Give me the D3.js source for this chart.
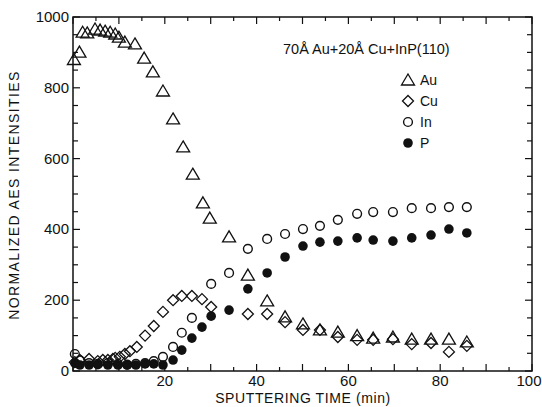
<!DOCTYPE html>
<html>
<head>
<meta charset="utf-8">
<script src="https://cdn.jsdelivr.net/npm/d3@7"></script>
<style>
body { margin: 0; background: #fff; }
text { font-family: "Liberation Sans", Arial, sans-serif; fill: #111; }
</style>
</head>
<body>
<script>
// values (time in min, normalized intensity)
const auTime = [0.2,1.4,2.1,3.1,4.8,5.9,7.0,8.1,9.2,10.0,11.3,13.5,15.5,17.4,19.6,21.8,24.0,26.1,28.3,29.8,34.0,38.1,42.3,46.2,50.1,53.8,57.7,61.9,65.4,69.7,73.8,78.0,81.9,85.8]
const auVal  = [880,901,957,955,966,963,960,957,952,943,929,924,884,845,791,712,633,556,475,432,379,271,198,153,133,116,110,100,93,96,90,90,90,82]

const cuTime = [0.4,1.5,3.5,5.4,6.5,7.6,8.7,9.2,10.2,11.3,12.4,13.9,15.7,17.6,19.6,21.8,23.7,25.9,28.1,30.1,38.1,42.3,46.2,50.1,53.8,57.7,61.9,65.4,69.7,73.8,78.0,81.9,85.8]
const cuVal  = [25,31,34,28,31,31,34,37,40,48,56,68,100,127,167,200,212,212,203,181,161,161,138,116,116,96,88,88,90,76,79,54,71]

const inTime = [0.4,1.5,3.5,5.4,7.6,9.8,11.8,13.7,15.7,17.6,19.6,21.8,23.7,25.9,30.1,34.0,38.1,42.3,46.2,50.1,53.8,57.7,61.9,65.4,69.7,73.8,78.0,81.9,85.8]
const inVal  = [48,30,22,20,22,20,18,20,22,28,40,68,108,150,246,277,345,373,387,401,410,427,444,449,449,460,460,463,463]

const pTime = [0.4,1.5,3.5,5.4,7.6,9.8,11.8,13.7,15.7,17.6,19.6,21.8,23.7,25.9,28.1,30.1,34.0,38.1,42.3,46.2,50.1,53.8,57.7,61.9,65.4,69.7,73.8,78.0,81.9,85.8]
const pVal  = [22,17,17,18,17,17,17,17,20,20,17,31,59,93,124,155,172,232,277,322,353,364,367,376,370,367,376,384,401,390]

const xTickLabels = [20, 40, 60, 80, 100]
const yTickLabels = [0, 200, 400, 600, 800, 1000]
const legendNames = ["Au", "Cu", "In", "P"]

const width = 542, height = 407
const margin = {top: 17, right: 10, bottom: 36, left: 73}

const x = d3.scaleLinear().domain([0, 100]).range([margin.left, width - margin.right])
const y = d3.scaleLinear().domain([0, 1000]).range([height - margin.bottom, margin.top])

const svg = d3.select("body").append("svg")
    .attr("width", width)
    .attr("height", height)

// ticks, pointing inward on all four sides
const xt = d3.range(0, 101, 5)
const yt = d3.range(0, 1001, 50)
const tk = svg.append("g").attr("stroke", "#111").attr("stroke-width", 1.2)
xt.forEach(function(v) {
    const len = v % 10 === 0 ? 7 : 4
    tk.append("line").attr("x1", x(v)).attr("x2", x(v)).attr("y1", y(0)).attr("y2", y(0) - len)
    tk.append("line").attr("x1", x(v)).attr("x2", x(v)).attr("y1", y(1000)).attr("y2", y(1000) + len)
})
yt.forEach(function(v) {
    const len = v % 200 === 0 ? 7 : 5
    tk.append("line").attr("x1", x(0)).attr("x2", x(0) + len).attr("y1", y(v)).attr("y2", y(v))
    tk.append("line").attr("x1", x(100)).attr("x2", x(100) - len).attr("y1", y(v)).attr("y2", y(v))
})

svg.append("rect")
    .attr("x", x(0)).attr("y", y(1000))
    .attr("width", x(100) - x(0)).attr("height", y(0) - y(1000))
    .attr("fill", "none").attr("stroke", "#111").attr("stroke-width", 1.5)

svg.selectAll(".ylab").data(yTickLabels).enter().append("text")
    .attr("class", "ylab")
    .attr("x", x(0) - 4)
    .attr("y", function(d) { return y(d) + 5 })
    .attr("text-anchor", "end")
    .style("font-size", "15px")
    .text(function(d) { return d })

svg.selectAll(".xlab").data(xTickLabels).enter().append("text")
    .attr("class", "xlab")
    .attr("x", function(d) { return d === 100 ? x(d) - 3 : x(d) })
    .attr("y", y(0) + 15)
    .attr("text-anchor", "middle")
    .style("font-size", "15px")
    .text(function(d) { return d })

svg.append("text")
    .attr("x", 303).attr("y", 403)
    .attr("text-anchor", "middle")
    .style("font-size", "14px")
    .style("letter-spacing", "0.6px")
    .text("SPUTTERING TIME (min)")

svg.append("text")
    .attr("transform", "translate(19,195) rotate(-90)")
    .attr("text-anchor", "middle")
    .style("font-size", "14px")
    .style("letter-spacing", "1.4px")
    .text("NORMALIZED AES INTENSITIES")

svg.append("text")
    .attr("x", 283).attr("y", 54)
    .style("font-size", "14.5px")
    .text("70Å Au+20Å Cu+InP(110)")

// marker shapes
function tri(g) {
    g.append("path").attr("d", "M0,-6L6.5,5L-6.5,5Z")
        .attr("fill", "none").attr("stroke", "#111").attr("stroke-width", 1.3)
}
function dia(g) {
    g.append("path").attr("d", "M0,-5.5L5.5,0L0,5.5L-5.5,0Z")
        .attr("fill", "none").attr("stroke", "#111").attr("stroke-width", 1.3)
}
function ring(g) {
    g.append("circle").attr("r", 4.4)
        .attr("fill", "none").attr("stroke", "#111").attr("stroke-width", 1.4)
}
function dot(g) {
    g.append("circle").attr("r", 4.8).attr("fill", "#111")
}

const series = [
    {t: auTime, v: auVal, draw: tri},
    {t: cuTime, v: cuVal, draw: dia},
    {t: inTime, v: inVal, draw: ring},
    {t: pTime, v: pVal, draw: dot}
]

series.forEach(function(s) {
    const pts = s.t.map(function(t, i) { return {t: t, v: s.v[i]} })
    svg.append("g").selectAll("g").data(pts).enter().append("g")
        .attr("transform", function(d) { return "translate(" + x(d.t) + "," + y(d.v) + ")" })
        .each(function() { s.draw(d3.select(this)) })
})

// legend
const legend = svg.selectAll(".legend").data(legendNames).enter().append("g")
    .attr("class", "legend")
    .attr("transform", function(d, i) { return "translate(408," + (80 + i * 21) + ")" })
legend.each(function(d, i) { series[i].draw(d3.select(this)) })
legend.append("text")
    .attr("x", 12).attr("y", 5)
    .style("font-size", "14px")
    .text(function(d) { return d })
</script>
</body>
</html>
